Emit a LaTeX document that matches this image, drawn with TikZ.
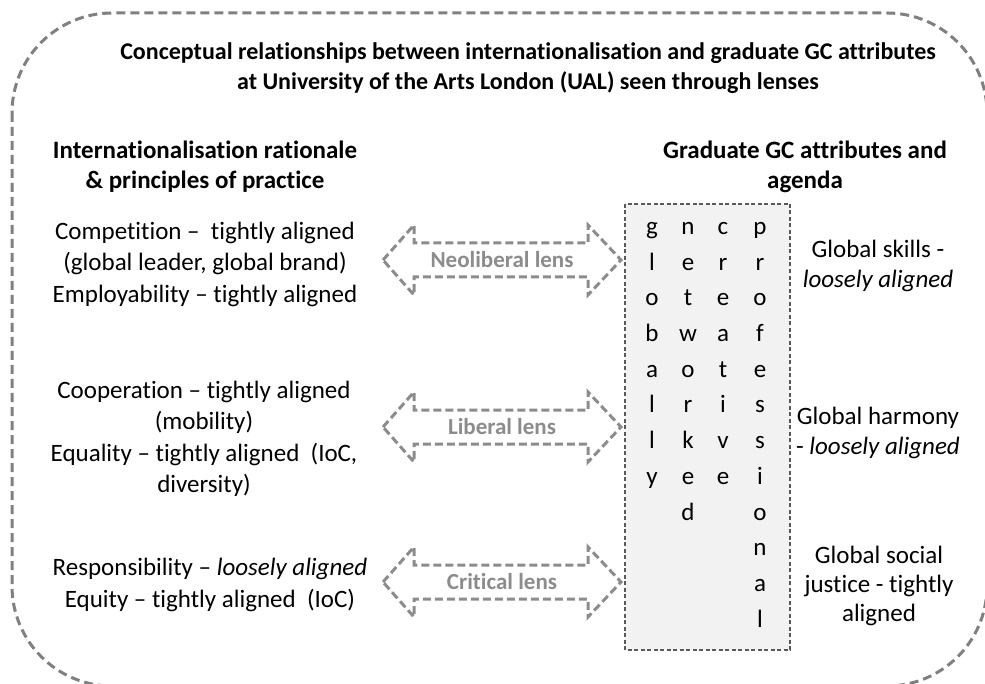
\documentclass[tikz,border=0pt]{standalone}
\usepackage{fontspec}
\setmainfont{Carlito}[Ligatures=NoCommon]
\definecolor{lensgray}{HTML}{8C8C8C}
\definecolor{framegray}{HTML}{808080}
\definecolor{gridfill}{HTML}{F2F2F2}
\definecolor{gridline}{HTML}{595959}
% double-headed block arrow with a dashed outline and a label in its shaft
\newcommand\lensarrow[3]{%
  \draw[lensline] (383,#2) -- (414,{#2-35}) -- (414,{#2-17}) -- (588,{#2-17})
    -- (588,{#2-35}) -- (621,#2) -- (588,{#2+35}) -- (588,{#2+17})
    -- (414,{#2+17}) -- (414,{#2+35}) -- cycle;
  \node[lenstext] (#1) at (502,#2) {#3};}
\begin{document}
\begin{tikzpicture}[x=1pt,y=-1pt,
  frame/.style={draw=framegray, line width=3pt, dash pattern=on 9pt off 5pt},
  lensline/.style={draw=lensgray, fill=white, line width=3pt, dash pattern=on 8pt off 4pt, line join=miter},
  lenstext/.style={text=lensgray, font=\fontsize{23}{27}\selectfont\bfseries, inner sep=0pt},
  heading/.style={font=\fontsize{25}{30}\selectfont\bfseries, align=center, inner sep=0pt},
  body/.style={font=\fontsize{25}{31.5}\selectfont, align=center, inner sep=0pt},
  gridbox/.style={draw=gridline, fill=gridfill, line width=1.2pt, dash pattern=on 4pt off 2.5pt},
  letter/.style={font=\fontsize{25}{30}\selectfont, inner sep=0pt, text height=0.75em, text depth=0.25em}
]
\useasboundingbox (0,0) rectangle (985,684);

% outer dashed frame
\draw[frame, rounded corners=100pt] (12,13) rectangle (987,686);

% titles
\node[heading, font=\fontsize{24}{30}\selectfont\bfseries] (title) at (528,68) {Conceptual relationships between internationalisation and graduate GC attributes\\at University of the Arts London (UAL) seen through lenses};
\node[heading] (lefthead) at (205,167) {Internationalisation rationale\\\& principles of practice};
\node[heading] (righthead) at (805,167) {Graduate GC attributes and\\agenda};

% rationale blocks
\node[body] (competition) at (205,264) {Competition \textendash{}\ \ tightly aligned\\(global leader, global brand)\\Employability \textendash{} tightly aligned};
\node[body] (cooperation) at (204,439) {Cooperation \textendash{} tightly aligned\\(mobility)\\Equality \textendash{} tightly aligned\ \ (IoC,\\diversity)};
\node[body] (responsibility) at (210,585) {Responsibility \textendash{} \textit{loosely aligned}\\Equity \textendash{} tightly aligned\ \ (IoC)};

% lenses
\lensarrow{neoliberal}{260}{Neoliberal lens}
\lensarrow{liberal}{427}{Liberal lens}
\lensarrow{critical}{582}{Critical lens}

% attribute grid
\path[gridbox] (625,204) rectangle (790,650);
\foreach \ch [count=\i] in {g,l,o,b,a,l,l,y}
  \node[letter] (glob\i) at (652,{232+35.7*(\i-1)}) {\ch};
\foreach \ch [count=\i] in {n,e,t,w,o,r,k,e,d}
  \node[letter] (netw\i) at (688,{232+35.7*(\i-1)}) {\ch};
\foreach \ch [count=\i] in {c,r,e,a,t,i,v,e}
  \node[letter] (crea\i) at (723,{232+35.7*(\i-1)}) {\ch};
\foreach \ch [count=\i] in {p,r,o,f,e,s,s,i,o,n,a,l}
  \node[letter] (prof\i) at (760,{232+35.7*(\i-1)}) {\ch};

% attribute agendas
\node[body, font=\fontsize{25}{30.5}\selectfont] (skills) at (878,266) {Global skills -\\\textit{loosely aligned}};
\node[body, font=\fontsize{25}{30.5}\selectfont] (harmony) at (878,433) {Global harmony\\- \textit{loosely aligned}};
\node[body, font=\fontsize{25}{29}\selectfont] (social) at (879,586) {Global social\\justice - tightly\\aligned};
\end{tikzpicture}
\end{document}
